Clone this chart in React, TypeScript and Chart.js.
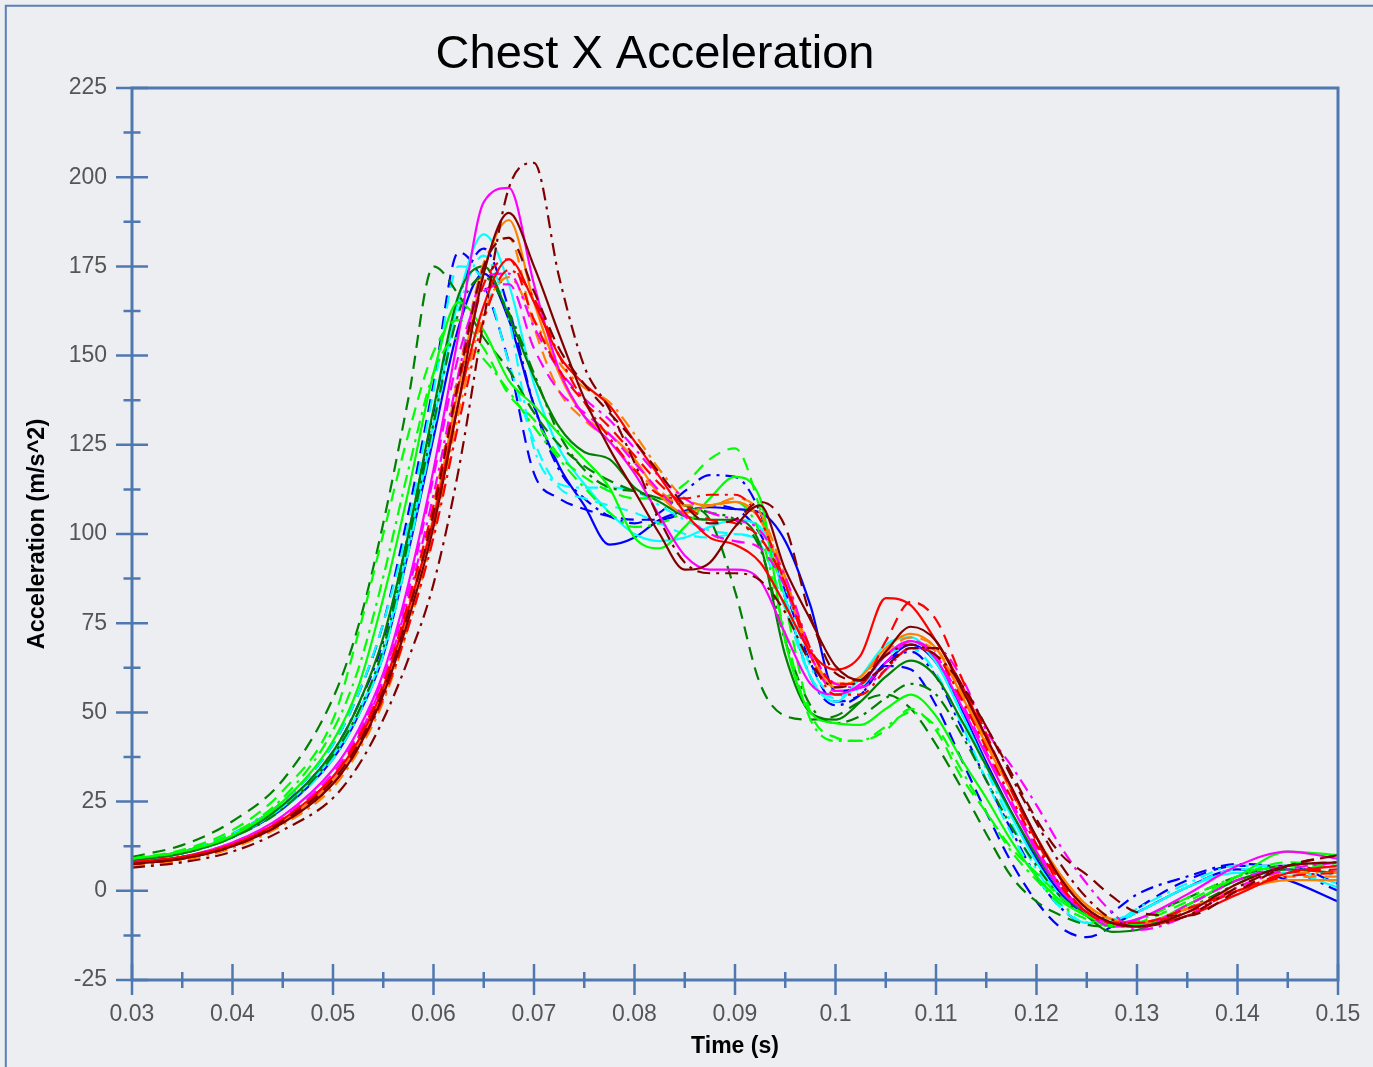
import { useEffect, useRef } from 'react';
import { Chart, registerables } from 'chart.js';

Chart.register(...registerables);

// ---------- data ----------
const times = [0.03, 0.035, 0.04, 0.045, 0.05, 0.0525, 0.055, 0.0575, 0.06, 0.0625, 0.065, 0.0675, 0.07, 0.0725, 0.075, 0.0775, 0.08, 0.0825, 0.085, 0.0875, 0.09, 0.0925, 0.095, 0.0975, 0.1, 0.1025, 0.105, 0.1075, 0.11, 0.1125, 0.115, 0.1175, 0.12, 0.1225, 0.125, 0.1275, 0.13, 0.135, 0.14, 0.145, 0.15];

const xTicks = [0.03, 0.04, 0.05, 0.06, 0.07, 0.08, 0.09, 0.1, 0.11, 0.12, 0.13, 0.14, 0.15];
const yTicks = [-25, 0, 25, 50, 75, 100, 125, 150, 175, 200, 225];

const maroonSolid = [7.5, 9, 12.5, 19, 30, 40, 55, 76, 102, 137, 173, 190, 175, 156, 138, 124, 112, 100, 90, 92, 102, 108, 90, 76, 63, 59, 67, 74, 70, 57, 43, 29, 15, 3, -5, -9, -10, -6, 2, 7, 8];
const maroonDashed = [7.5, 9, 12.5, 19.5, 31, 41, 56, 78, 106, 143, 175, 183, 168, 152, 142, 134, 126, 117, 108, 103, 104, 109, 102, 77, 61, 59, 63, 68, 68, 58, 46, 33, 20, 10, 4.5, -1.5, -6, -7, 0, 7, 10];
const maroonDashDot = [6.5, 8, 11, 17, 26, 35, 48, 65, 86, 118, 160, 197, 204, 172, 147, 135, 120, 104, 92, 89, 89, 87, 78, 64, 57, 59, 66, 69, 66, 58, 46, 32, 19, 7, -2, -8, -10, -7, 1, 7, 10];
const redSolid = [8, 9.5, 13, 20, 32, 42, 57, 79, 104, 137, 164, 177, 165, 150, 142, 136, 126, 116, 106, 99, 97, 92, 80, 67, 62, 66, 82, 80, 70, 58, 43, 29, 15, 3, -5, -9, -10, -7, -1, 5, 7];
const redDashed = [8, 9.5, 13, 20, 32, 43, 58, 81, 108, 142, 170, 177, 160, 146, 137, 130, 122, 114, 108, 104, 103, 99, 86, 68, 58, 58, 70, 81, 76, 60, 44, 28, 14, 2, -6, -9, -9, -5, 0, 5, 6];
const redDashDot = [7.5, 9, 12.5, 19, 30, 40, 54, 74, 99, 131, 160, 174, 166, 150, 137, 127, 118, 111, 110, 111, 111, 104, 86, 66, 55, 55, 62, 68, 66, 54, 40, 26, 13, 1, -6, -9, -9, -6, 0, 4, 5];
const magentaSolid = [8, 9.5, 13.5, 21, 34, 45, 61, 86, 118, 156, 193, 197, 170, 146, 133, 126, 117, 105, 94, 90, 90, 87, 72, 58, 55, 58, 66, 70, 65, 52, 38, 24, 11, 0, -6, -9, -8, -1, 7, 11, 9];
const magentaDashed = [8, 9.5, 13.5, 20.5, 33, 44, 60, 84, 116, 150, 168, 170, 152, 140, 134, 128, 120, 112, 105, 100, 98, 96, 85, 66, 56, 57, 64, 70, 66, 53, 39, 25, 12, 1, -6, -10, -10, -4, 3, 7, 8];
const magentaDashDot = [8, 9.5, 13, 20, 32, 43, 59, 82, 111, 145, 172, 173, 158, 146, 138, 132, 124, 116, 110, 106, 104, 101, 88, 68, 58, 57, 62, 68, 68, 60, 45, 35, 24, 12, 2, -6, -11, -7, 1, 6, 8];
const orangeSolid = [7.5, 9, 12.5, 19.5, 31, 41, 56, 78, 105, 141, 174, 188, 165, 145, 133, 128, 121, 111, 106, 108, 109, 104, 86, 66, 57, 60, 68, 72, 68, 55, 41, 28, 15, 4, -4, -8, -9, -5, 0, 3, 3];
const orangeDashed = [7.5, 9, 12.5, 19.5, 31, 42, 57, 80, 108, 145, 176, 183, 158, 140, 132, 126, 118, 112, 108, 108, 110, 106, 88, 67, 58, 60, 67, 71, 68, 56, 42, 28, 15, 4, -4, -8, -9, -5, 0, 4, 4];
const orangeDashDot = [7, 8.5, 12, 18.5, 29, 39, 53, 74, 100, 134, 162, 172, 160, 148, 141, 137, 128, 118, 110, 108, 109, 104, 88, 68, 58, 59, 66, 70, 67, 56, 42, 28, 15, 4, -4, -8, -9, -5, 1, 5, 5];
const limeSolid = [9, 11, 15.5, 25, 42, 57, 82, 112, 145, 165, 157, 143, 136, 128, 121, 113, 99, 96, 102, 110, 116, 110, 70, 50, 47, 46.5, 51, 55, 49, 37, 26, 14, 4, -3, -7, -9.5, -9.5, -4, 4, 11, 10];
const limeDashed = [9, 11.5, 17, 28, 48, 72, 100, 128, 151, 160, 152, 139, 132, 122, 116, 112, 110, 110, 114, 121, 124, 107, 80, 50, 43, 42, 45, 51, 45, 32, 22, 12, 5, -2, -7, -10, -9, -3, 4, 8, 7];
const limeDashDot = [9, 11, 16, 26, 45, 62, 88, 118, 145, 155, 149, 140, 130, 121, 113, 106, 102, 103, 106, 108, 109, 100, 72, 48, 42, 42, 46, 50, 46, 34, 22, 11, 3, -4, -8, -10, -8.5, -2, 4, 7, 7];
const darkGreenSolid = [8.5, 10.5, 15, 24, 39, 52, 71, 100, 135, 167, 175, 161, 144, 130, 123, 121, 113, 109, 105, 104, 104, 97, 66, 50, 48, 53, 60, 64.5, 60, 48, 35, 22, 10, 0, -7, -11.5, -11, -4, 3, 6, 5];
const darkGreenDashed = [9.5, 12.8, 19.5, 31, 54, 74, 103, 138, 175, 167, 155, 146, 134, 125, 119, 115, 112, 110, 108, 104, 84, 58, 49, 48, 49, 53, 55, 51, 41, 29, 16, 4, -3, -7, -9.5, -10, -8, -2, 4, 7, 5];
const darkGreenDashDot = [8.5, 10.5, 15, 23, 38, 50, 68, 98, 131, 162, 172, 162, 145, 128, 118, 113, 112, 110, 108, 106, 104, 96, 70, 52, 47, 49, 54, 58, 55, 44, 31, 18, 7, -2, -7, -10, -10, -5, 2, 7, 8];
const cyanSolid = [8.5, 10.5, 15, 23.5, 38, 50, 67, 97, 131, 166, 184, 170, 142, 124, 114, 106, 100, 98, 99, 102, 104, 102, 82, 60, 53, 60, 69, 71, 64, 50, 35, 21, 8, -2, -7, -8, -6, 1, 5, 5, 1];
const cyanDashed = [9, 11, 16, 25, 41, 55, 75, 103, 140, 175, 171, 148, 126, 113, 110, 108, 106, 103, 100, 99, 100, 97, 79, 60, 54, 58, 66, 68, 61, 47, 31, 16, 4, -5, -9, -9, -6, 1, 6, 6, 2];
const cyanDashDot = [8.5, 10.5, 15, 23, 37, 49, 66, 95, 129, 163, 178, 160, 124, 114, 113, 113, 112, 108, 104, 101, 100, 98, 85, 63, 55, 57, 66, 70, 64, 50, 34, 19, 6, -4, -9, -9, -5, 2, 7, 7, 4];
const blueSolid = [8.5, 10.5, 15, 23, 37, 49, 66, 95, 127, 158, 173, 160, 136, 119, 108, 97, 99, 104, 106.5, 107.5, 107, 106, 98, 80, 56, 57, 64, 69, 64, 51, 36, 22, 9, -1, -7, -9, -6, 1, 6, 3, -3];
const blueDashed = [9, 11, 16, 25, 41, 55, 75, 106, 142, 179, 170, 148, 117, 110, 107, 105, 104, 104, 106, 108, 107, 100, 84, 64, 53, 55, 63, 62, 52, 37, 22, 8, -3, -10.5, -13, -10, -5, 3, 7, 7, 2];
const blueDashDot = [9, 11, 15.5, 24, 39, 52, 70, 100, 134, 166, 180, 163, 136, 118, 110, 105, 103, 106, 112, 116.5, 116, 106, 82, 60, 52, 55, 64, 67, 60, 46, 31, 17, 4, -5, -9, -6, -1, 4, 7.5, 6, 0];

// ---------- styles ----------
const SOLID: number[] = [];
const DASHED = [13, 8];
const DASH_DOT = [13, 6, 3, 6];

const seriesList = [
  { name: 'Maroon solid', values: maroonSolid, color: '#800000', dash: SOLID },
  { name: 'Maroon dashed', values: maroonDashed, color: '#800000', dash: DASHED },
  { name: 'Maroon dash-dot', values: maroonDashDot, color: '#800000', dash: DASH_DOT },
  { name: 'Red solid', values: redSolid, color: '#ff0000', dash: SOLID },
  { name: 'Red dashed', values: redDashed, color: '#ff0000', dash: DASHED },
  { name: 'Red dash-dot', values: redDashDot, color: '#ff0000', dash: DASH_DOT },
  { name: 'Magenta solid', values: magentaSolid, color: '#ff00ff', dash: SOLID },
  { name: 'Magenta dashed', values: magentaDashed, color: '#ff00ff', dash: DASHED },
  { name: 'Magenta dash-dot', values: magentaDashDot, color: '#ff00ff', dash: DASH_DOT },
  { name: 'Orange solid', values: orangeSolid, color: '#ff8000', dash: SOLID },
  { name: 'Orange dashed', values: orangeDashed, color: '#ff8000', dash: DASHED },
  { name: 'Orange dash-dot', values: orangeDashDot, color: '#ff8000', dash: DASH_DOT },
  { name: 'Lime solid', values: limeSolid, color: '#00ff00', dash: SOLID },
  { name: 'Lime dashed', values: limeDashed, color: '#00ff00', dash: DASHED },
  { name: 'Lime dash-dot', values: limeDashDot, color: '#00ff00', dash: DASH_DOT },
  { name: 'Dark green solid', values: darkGreenSolid, color: '#008000', dash: SOLID },
  { name: 'Dark green dashed', values: darkGreenDashed, color: '#008000', dash: DASHED },
  { name: 'Dark green dash-dot', values: darkGreenDashDot, color: '#008000', dash: DASH_DOT },
  { name: 'Cyan solid', values: cyanSolid, color: '#00ffff', dash: SOLID },
  { name: 'Cyan dashed', values: cyanDashed, color: '#00ffff', dash: DASHED },
  { name: 'Cyan dash-dot', values: cyanDashDot, color: '#00ffff', dash: DASH_DOT },
  { name: 'Blue solid', values: blueSolid, color: '#0000ff', dash: SOLID },
  { name: 'Blue dashed', values: blueDashed, color: '#0000ff', dash: DASHED },
  { name: 'Blue dash-dot', values: blueDashDot, color: '#0000ff', dash: DASH_DOT },
];

const AXIS_COLOR = '#4f78b0';
const BG = '#eceef1';
const FONT = '"Liberation Sans", Arial, Helvetica, sans-serif';

const framePlugin = {
  id: 'frame',
  beforeDraw(chart: any) {
    const { ctx, width, height } = chart;
    ctx.save();
    ctx.fillStyle = BG;
    ctx.fillRect(0, 0, width, height);
    ctx.strokeStyle = '#5a80b6';
    ctx.lineWidth = 2;
    ctx.beginPath();
    ctx.moveTo(5.8, height);
    ctx.lineTo(5.8, 5.8);
    ctx.lineTo(width, 5.8);
    ctx.stroke();
    ctx.fillStyle = '#000';
    ctx.font = `47px ${FONT}`;
    ctx.textAlign = 'center';
    ctx.textBaseline = 'alphabetic';
    ctx.fillText('Chest X Acceleration', 655, 68);
    ctx.restore();
  },
  afterDatasetsDraw(chart: any) {
    const { ctx, chartArea } = chart;
    const { left, right, top, bottom } = chartArea;
    const xs = chart.scales.x;
    const ys = chart.scales.y;
    ctx.save();
    ctx.strokeStyle = AXIS_COLOR;
    ctx.lineWidth = 3;
    ctx.strokeRect(left, top, right - left, bottom - top);
    ctx.lineWidth = 2.5;
    ctx.beginPath();
    yTicks.forEach((v, i) => {
      const py = ys.getPixelForValue(v);
      ctx.moveTo(left - 16, py);
      ctx.lineTo(left + 16, py);
      if (i < yTicks.length - 1) {
        const my = ys.getPixelForValue((v + yTicks[i + 1]) / 2);
        ctx.moveTo(left - 8.5, my);
        ctx.lineTo(left + 8.5, my);
      }
    });
    xTicks.forEach((v, i) => {
      const px = xs.getPixelForValue(v);
      ctx.moveTo(px, bottom - 16);
      ctx.lineTo(px, bottom + 15);
      if (i < xTicks.length - 1) {
        const mx = xs.getPixelForValue((v + xTicks[i + 1]) / 2);
        ctx.moveTo(mx, bottom - 8);
        ctx.lineTo(mx, bottom + 8);
      }
    });
    ctx.stroke();
    ctx.restore();
  },
};

export default function App() {
  const ref = useRef<HTMLCanvasElement>(null);
  useEffect(() => {
    const canvas = ref.current;
    if (!canvas) return;
    const datasets = seriesList.map((s) => ({
      label: s.name,
      data: times.map((t, i) => ({ x: t, y: s.values[i] })),
      borderColor: s.color,
      backgroundColor: s.color,
      borderWidth: 2.2,
      borderDash: s.dash,
      pointRadius: 0,
      fill: false,
      cubicInterpolationMode: 'monotone' as const,
    }));
    const chart = new Chart(canvas, {
      type: 'line',
      data: { datasets },
      plugins: [framePlugin],
      options: {
        animation: false,
        responsive: false,
        devicePixelRatio: 1,
        layout: { padding: { top: 88, right: 35, left: 0, bottom: 0 } },
        plugins: { legend: { display: false }, tooltip: { enabled: false }, title: { display: false } },
        scales: {
          x: {
            type: 'linear',
            min: 0.03,
            max: 0.15,
            afterBuildTicks: (scale: any) => {
              scale.ticks = xTicks.map((value) => ({ value }));
            },
            afterFit: (scale: any) => {
              scale.height = 87;
              scale.paddingLeft = 0;
              scale.paddingRight = 0;
            },
            grid: { display: false, drawTicks: false, tickLength: 0 },
            border: { display: false },
            ticks: {
              autoSkip: false,
              maxRotation: 0,
              minRotation: 0,
              padding: 21,
              color: '#555555',
              font: { size: 23, family: FONT },
              callback: (v: any) => String(Number(Number(v).toFixed(3))),
            },
            title: {
              display: true,
              text: 'Time (s)',
              color: '#000',
              font: { size: 23, weight: 'bold', family: FONT },
              padding: { top: 0, bottom: 7 },
            },
          },
          y: {
            type: 'linear',
            min: -25,
            max: 225,
            afterBuildTicks: (scale: any) => {
              scale.ticks = yTicks.map((value) => ({ value }));
            },
            afterFit: (scale: any) => {
              scale.width = 132;
              scale.paddingTop = 0;
              scale.paddingBottom = 0;
            },
            grid: { display: false, drawTicks: false, tickLength: 0 },
            border: { display: false },
            ticks: {
              autoSkip: false,
              padding: 25,
              color: '#555555',
              font: { size: 23, family: FONT },
              callback: (v: any) => String(v),
            },
            title: {
              display: true,
              text: 'Acceleration (m/s^2)',
              color: '#000',
              font: { size: 23.5, weight: 'bold', family: FONT },
              padding: { top: 23, bottom: 0 },
            },
          },
        },
      } as any,
    });
    return () => chart.destroy();
  }, []);
  return (
    <div style={{ position: 'absolute', left: 0, top: 0, width: 1373, height: 1067, overflow: 'hidden' }}>
      <canvas ref={ref} width={1373} height={1067} style={{ display: 'block' }} />
    </div>
  );
}
